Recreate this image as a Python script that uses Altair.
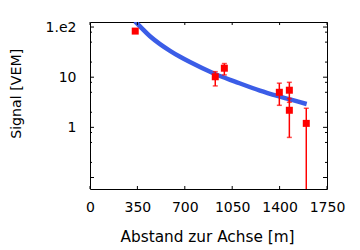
import altair as alt
import pandas as pd

# measured points (distance to shower axis [m], signal [VEM])
dist = [334, 925, 992, 1398, 1472, 1472, 1597]
signal = [83, 10.2, 15.1, 5.0, 5.5, 2.19, 1.2]
sig_hi = [83, 12.9, 18.7, 7.6, 7.9, 3.75, 2.4]
sig_lo = [83, 6.7, 11.1, 2.75, 3.16, 0.63, 0.01]

# fitted lateral distribution function
curve_x = [332, 369, 443, 517, 591, 665, 738, 923, 1071, 1255, 1403, 1600]
curve_y = [129, 103, 65.5, 45.7, 33.6, 25.5, 20.0, 11.6, 8.17, 5.40, 4.09, 2.92]

x_ticks = [0, 350, 700, 1050, 1400, 1750]
y_labels = [100, 10, 1]
y_major = [100, 10, 1, 0.1]
y_minor = [79, 50, 20, 7.9, 5, 2, 0.79, 0.5, 0.2]

W, H = 237, 167
FONT = "DejaVu Sans"

pts = pd.DataFrame({"d": dist, "s": signal, "hi": sig_hi, "lo": sig_lo})
crv = pd.DataFrame({"d": curve_x, "s": curve_y})

xs = alt.Scale(domain=[0, 1750], nice=False, zero=False)
ys = alt.Scale(type="log", domain=[0.059, 126], nice=False)

xa = alt.Axis(values=x_ticks, title="Abstand zur Achse [m]", grid=False, format="d",
              labelOverlap=False, labelFlush=False,
              domain=False, ticks=False, labelPadding=11,
              labelFontSize=14, labelFont=FONT, labelColor="#000",
              titleFontSize=15.3, titleFont=FONT, titleFontWeight="normal",
              titleColor="#000", titleX=117, titleY=52.5, titleBaseline="alphabetic")
ya = alt.Axis(values=y_labels, title="Signal [VEM]", grid=False,
              labelOverlap=False, labelFlush=False,
              domain=False, ticks=False, labelPadding=14,
              labelExpr="datum.value >= 100 ? '1.e2' : format(datum.value, '~g')",
              labelFontSize=14, labelFont=FONT, labelColor="#000",
              titleFontSize=14.2, titleFont=FONT, titleFontWeight="normal",
              titleColor="#000", titleX=-69.5, titleY=71.3, titleBaseline="alphabetic")

def X(f):
    return alt.X(f, scale=xs, axis=xa)

def Y(f):
    return alt.Y(f, scale=ys, axis=ya)

curve = alt.Chart(crv).mark_line(color="#3b5de7", strokeWidth=4.5, clip=True,
                                 interpolate="monotone").encode(
    x=X("d:Q"), y=Y("s:Q"), order="d:Q")

err = alt.Chart(pts).mark_rule(color="#ff0000", strokeWidth=1.5, clip=True).encode(
    x=X("d:Q"), y=Y("lo:Q"), y2="hi:Q")
cap_hi = alt.Chart(pts).mark_tick(color="#ff0000", orient="horizontal", size=5,
                                  thickness=1.5, clip=True).encode(
    x=X("d:Q"), y=Y("hi:Q"))
cap_lo = alt.Chart(pts).mark_tick(color="#ff0000", orient="horizontal", size=5,
                                  thickness=1.5, clip=True).encode(
    x=X("d:Q"), y=Y("lo:Q"))
squares = alt.Chart(pts).mark_square(color="#ff0000", size=49, opacity=1).encode(
    x=X("d:Q"), y=Y("s:Q"))

ymaj = pd.DataFrame({"v": y_major})
ymin = pd.DataFrame({"v": y_minor})
xt = pd.DataFrame({"v": x_ticks})

def yrule(df, x0, x1):
    return alt.Chart(df).mark_rule(color="#000", strokeWidth=1).encode(
        y=Y("v:Q"), x=alt.value(x0), x2=alt.value(x1))

def xrule(y0, y1):
    return alt.Chart(xt).mark_rule(color="#000", strokeWidth=1).encode(
        x=X("v:Q"), y=alt.value(y0), y2=alt.value(y1))

ticks = [yrule(ymaj, 0, 4), yrule(ymaj, W - 4, W), yrule(ymin, 0, 2), yrule(ymin, W - 2, W),
         xrule(H, H - 3), xrule(0, 3)]

chart = alt.layer(curve, err, cap_hi, cap_lo, squares, *ticks).properties(
    width=W, height=H,
    autosize=alt.AutoSizeParams(type="none"),
    padding={"left": 90, "top": 22, "right": 33, "bottom": 61},
    background="white",
).configure_view(stroke="#000", strokeWidth=1)

chart.save("out.html", embed_options={"renderer": "svg", "actions": False})
